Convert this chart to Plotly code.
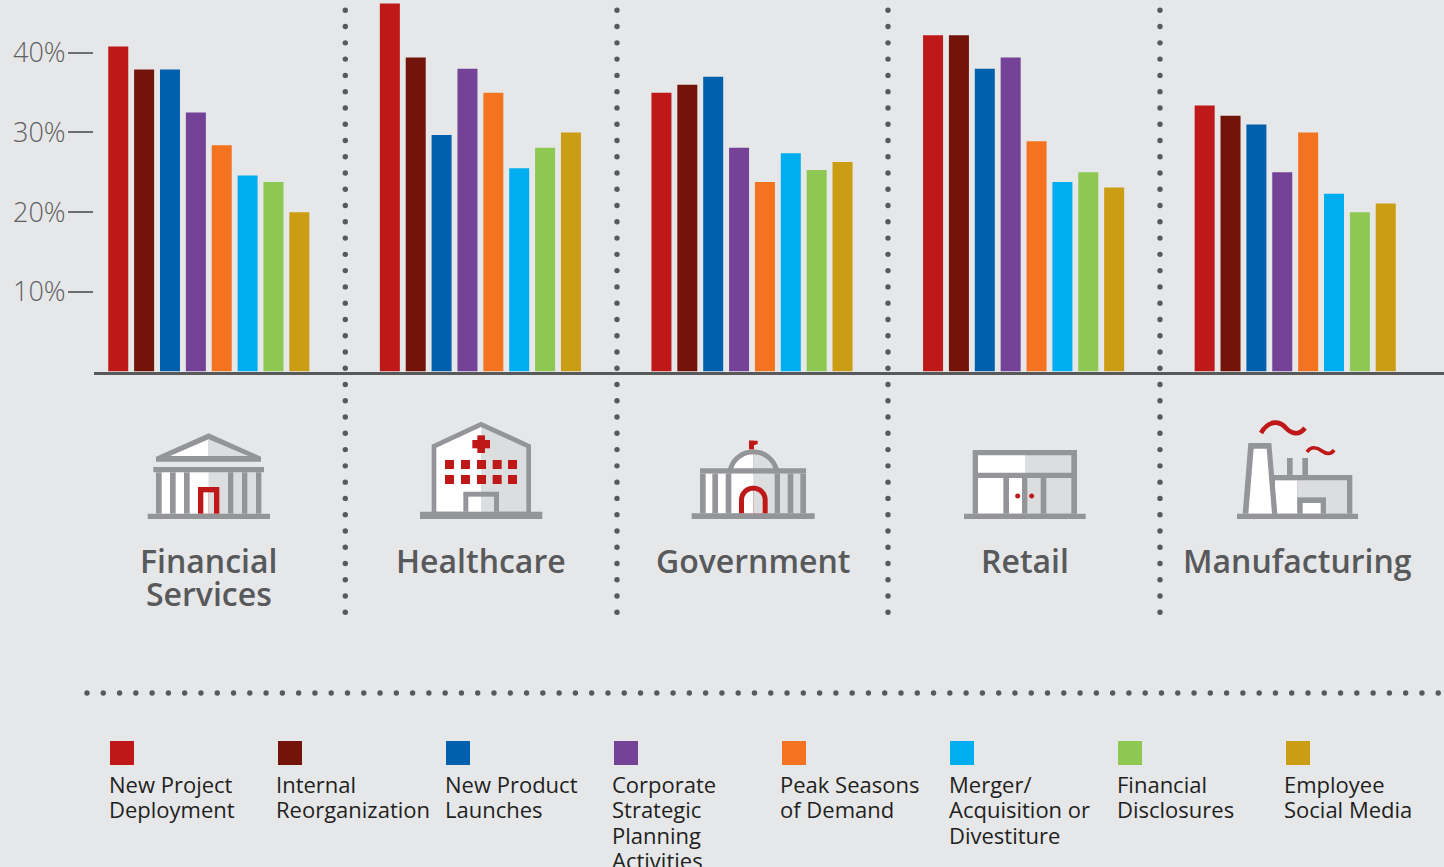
import numpy as np
import plotly.graph_objects as go

# ---------- data ----------
sectors = ["Financial Services", "Healthcare", "Government", "Retail", "Manufacturing"]
new_project = [40.8, 46.2, 35.0, 42.2, 33.4]
internal_reorg = [37.9, 39.4, 36.0, 42.2, 32.1]
new_product = [37.9, 29.7, 37.0, 38.0, 31.0]
corporate_strategic = [32.5, 38.0, 28.1, 39.4, 25.0]
peak_seasons = [28.4, 35.0, 23.8, 28.9, 30.0]
merger = [24.6, 25.5, 27.4, 23.8, 22.3]
financial_disclosures = [23.8, 28.1, 25.3, 25.0, 20.0]
employee_social = [20.0, 30.0, 26.3, 23.1, 21.1]

series_names = ["New Project Deployment", "Internal Reorganization", "New Product Launches",
                "Corporate Strategic Planning Activities", "Peak Seasons of Demand",
                "Merger/ Acquisition or Divestiture", "Financial Disclosures", "Employee Social Media"]
series_values = [new_project, internal_reorg, new_product, corporate_strategic,
                 peak_seasons, merger, financial_disclosures, employee_social]
tick_values = [10, 20, 30, 40]
tick_labels = ["10%", "20%", "30%", "40%"]

# ---------- style ----------
W, H = 1444, 867
BG = "#E6E7E9"
GRAY = "#939598"
SHADE = "#DCDDDE"
WHITE = "#FFFFFF"
RED = "#BE1818"
DOT = "#58595B"
colors = ["#BE1818", "#73140B", "#0060AE", "#744397", "#F47321", "#00AEEF", "#8DC853", "#CB9D14"]
FONT = "Open Sans"

legend_lines = [["New Project", "Deployment"], ["Internal", "Reorganization"],
                ["New Product", "Launches"], ["Corporate", "Strategic", "Planning", "Activities"],
                ["Peak Seasons", "of Demand"], ["Merger/", "Acquisition or", "Divestiture"],
                ["Financial", "Disclosures"], ["Employee", "Social Media"]]
sector_lines = [["Financial", "Services"], ["Healthcare"], ["Government"], ["Retail"], ["Manufacturing"]]
sector_px = [208.5, 481, 753, 1025, 1297.5]

fig = go.Figure()

# bars on the primary axes
for name, vals, col in zip(series_names, series_values, colors):
    fig.add_trace(go.Bar(x=sectors, y=vals, name=name, marker=dict(color=col, line=dict(width=0)),
                         hovertemplate="%{x}<br>" + name + ": %{y}%<extra></extra>"))

# dotted separators on the full-page overlay axes
vx, vy = [], []
for x in [345.3, 617, 888, 1160]:
    ys = 10.3 + 16.27 * np.arange(38)
    vx += [x] * len(ys)
    vy += list(ys)
hx = 87 + 16.28 * np.arange(84)
vx += list(hx)
vy += [693] * len(hx)
fig.add_trace(go.Scatter(x=vx, y=vy, mode="markers", xaxis="x2", yaxis="y2", hoverinfo="skip",
                         marker=dict(color=DOT, size=5.4, line=dict(width=0))))

shapes = []


def poly(pts, fill, ox, oy, s=3.0):
    d = "M" + " L".join(f"{ox + x / s:.2f},{oy + y / s:.2f}" for x, y in pts) + " Z"
    shapes.append(dict(type="path", path=d, xref="x2", yref="y2", fillcolor=fill,
                       line=dict(width=0), layer="above"))


def rect(x0, y0, x1, y1, fill, ox, oy):
    poly([(x0, y0), (x1, y0), (x1, y1), (x0, y1)], fill, ox, oy)


def arc_pts(cx, cy, r, a0, a1, n=24):
    a = np.radians(np.linspace(a0, a1, n))
    return [(cx + r * np.cos(t), cy - r * np.sin(t)) for t in a]


# ---- Financial Services icon
o = (130, 410)
rect(78, 187, 236, 311, WHITE, *o)
rect(236, 187, 394, 311, SHADE, *o)
poly([(236, 70), (393, 140), (393, 155), (78, 155), (78, 140)], GRAY, *o)
poly([(236, 88), (236, 138), (120, 138)], WHITE, *o)
poly([(236, 88), (355, 138), (236, 138)], SHADE, *o)
rect(70, 171, 402, 187, GRAY, *o)
for a, b in [(78, 95), (120, 137), (162, 179), (294, 310), (336, 352), (378, 394)]:
    rect(a, 187, b, 311, GRAY, *o)
rect(53, 311, 420, 327, GRAY, *o)
rect(204, 231, 268, 311, RED, *o)
rect(220, 247, 236, 311, WHITE, *o)
rect(236, 247, 252, 311, SHADE, *o)

# ---- Healthcare icon
poly([(905, 104), (1053, 35), (1203, 104), (1203, 310), (905, 310)], GRAY, *o)
poly([(919, 113), (1053, 51), (1053, 305), (919, 305)], WHITE, *o)
poly([(1053, 51), (1189, 113), (1189, 305), (1053, 305)], SHADE, *o)
rect(870, 305, 1237, 327, GRAY, *o)
rect(1000, 245, 1107, 305, GRAY, *o)
rect(1015, 260, 1053, 305, WHITE, *o)
rect(1053, 260, 1092, 305, SHADE, *o)
rect(1027, 90, 1080, 115, RED, *o)
rect(1042, 76, 1065, 129, RED, *o)
for wx in [945, 993, 1041, 1088, 1134]:
    for wy in [150, 195]:
        rect(wx, wy, wx + 27, wy + 27, RED, *o)

# ---- Government icon
o = (680, 410)
poly(arc_pts(220, 197, 79, 180, 0), GRAY, *o)
poly(arc_pts(220, 197, 64, 180, 90) + [(220, 197)], WHITE, *o)
poly(arc_pts(220, 197, 64, 90, 0) + [(220, 197)], SHADE, *o)
rect(60, 175, 378, 191, GRAY, *o)
rect(60, 191, 220, 310, WHITE, *o)
rect(220, 191, 378, 310, SHADE, *o)
for a, b in [(60, 77), (97, 114), (137, 154), (284, 300), (323, 340), (361, 378)]:
    rect(a, 191, b, 310, GRAY, *o)
rect(35, 310, 404, 327, GRAY, *o)
rect(207, 92, 222, 118, RED, *o)
poly([(207, 92), (233, 92), (233, 102), (222, 106), (207, 106)], RED, *o)
poly(arc_pts(220, 270, 43, 180, 0) + [(263, 310), (177, 310)], RED, *o)
poly(arc_pts(220, 270, 28, 180, 90) + [(220, 310), (192, 310)], WHITE, *o)
poly(arc_pts(220, 270, 28, 90, 0) + [(248, 310), (220, 310)], SHADE, *o)

# ---- Retail icon
rect(878, 120, 1191, 311, GRAY, *o)
rect(894, 136, 1035, 188, WHITE, *o)
rect(1035, 136, 1174, 188, SHADE, *o)
rect(894, 204, 970, 311, WHITE, *o)
rect(987, 204, 1026, 311, WHITE, *o)
rect(1042, 204, 1082, 311, SHADE, *o)
rect(1099, 204, 1174, 311, SHADE, *o)
rect(852, 311, 1217, 327, GRAY, *o)
for dx in [1013, 1055]:
    poly(arc_pts(dx, 258, 7.5, 0, 360), RED, *o)

# ---- Manufacturing icon
o = (1160, 400)
rect(340, 225, 577, 341, GRAY, *o)
rect(345, 241, 412, 341, WHITE, *o)
rect(412, 241, 561, 341, SHADE, *o)
poly([(265, 129), (334, 129), (352, 341), (248, 341)], GRAY, *o)
poly([(281, 146), (320, 146), (336, 341), (265, 341)], WHITE, *o)
rect(381, 174, 398, 225, GRAY, *o)
rect(427, 174, 444, 225, GRAY, *o)
rect(412, 292, 498, 341, GRAY, *o)
rect(428, 309, 482, 341, WHITE, *o)
rect(231, 341, 594, 357, GRAY, *o)
for d, w in [("M1261,433 C1268,421 1278,420 1285,427 C1291,434 1299,436 1305,428", 4.6),
             ("M1307,452 C1311,446 1317,447 1322,451 C1326,454 1331,455 1334,450", 3.6)]:
    shapes.append(dict(type="path", path=d, xref="x2", yref="y2", line=dict(color=RED, width=w),
                       fillcolor="rgba(0,0,0,0)", layer="above"))

# legend swatches
legend_x = [110, 278, 446, 614, 782, 950, 1118, 1286]
text_x = [107.5, 274.5, 443.5, 610.5, 778.5, 947.5, 1115.5, 1282.5]
line_y = [784, 809, 835, 860]
annotations = []
for lx, tx, col, lines in zip(legend_x, text_x, colors, legend_lines):
    shapes.append(dict(type="rect", x0=lx, x1=lx + 24, y0=741, y1=765, xref="x2", yref="y2",
                       fillcolor=col, line=dict(width=0)))
    for ln, ly in zip(lines, line_y):
        annotations.append(dict(text=ln, x=tx, y=ly, xref="x2", yref="y2", xanchor="left",
                                yanchor="middle", showarrow=False, borderpad=0,
                                font=dict(family=FONT, size=22, color="#231F20")))

# sector names
for sx, lines in zip(sector_px, sector_lines):
    for ln, ly in zip(lines, [560, 593]):
        annotations.append(dict(text=ln, x=sx, y=ly, xref="x2", yref="y2", xanchor="center",
                                yanchor="middle", showarrow=False, borderpad=0,
                                font=dict(family=FONT, size=32, color=DOT, weight=600)))

left = 94
pitch = 271.6
x0_cat = 208.8
zero_px = 371.5
fig.update_layout(
    width=W, height=H, autosize=False, margin=dict(l=0, r=0, t=0, b=0),
    paper_bgcolor=BG, plot_bgcolor="rgba(0,0,0,0)", showlegend=False,
    barmode="group", bargap=0.238, bargroupgap=0.2266, hovermode="closest",
    font=dict(family=FONT),
    shapes=shapes, annotations=annotations,
    xaxis=dict(domain=[left / W, 1], type="category", categoryorder="array", categoryarray=sectors,
               range=[(left - x0_cat) / pitch, (W - x0_cat) / pitch],
               showticklabels=False, ticks="", showgrid=False, zeroline=False,
               showline=True, linecolor=DOT, linewidth=3, fixedrange=True),
    yaxis=dict(domain=[1 - zero_px / H, 1], range=[0, zero_px / 7.967], tickmode="array",
               tickvals=tick_values, ticktext=tick_labels,
               ticks="outside", ticklen=25, tickwidth=1.5, tickcolor="#6D6E71",
               tickfont=dict(family=FONT, size=27, color="#5F6062", weight=300),
               ticklabelstandoff=-3,
               showgrid=False, zeroline=False, showline=False, fixedrange=True),
    xaxis2=dict(domain=[0, 1], range=[0, W], anchor="y2", visible=False, fixedrange=True),
    yaxis2=dict(domain=[0, 1], range=[H, 0], anchor="x2", visible=False, fixedrange=True),
)
fig.write_html("out.html", config=dict(displayModeBar=False),
               post_script="document.body.style.margin='0';document.body.style.overflow='hidden';"
                           f"document.body.style.background='{BG}';")
